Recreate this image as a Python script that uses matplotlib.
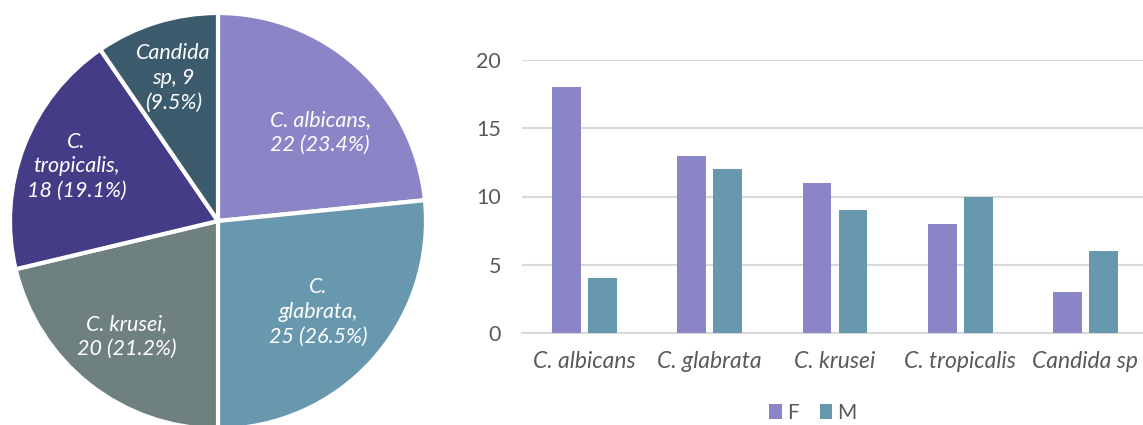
import numpy as np
import matplotlib
matplotlib.use('Agg')
import matplotlib.pyplot as plt

species = ['C. albicans', 'C. glabrata', 'C. krusei', 'C. tropicalis', 'Candida sp']
totals = [22, 25, 20, 18, 9]
female = [18, 13, 11, 8, 3]
male = [4, 12, 9, 10, 6]
pie_labels = ['C. albicans,\n22 (23.4%)', 'C.\nglabrata,\n25 (26.5%)', 'C. krusei,\n20 (21.2%)',
              'C.\ntropicalis,\n18 (19.1%)', 'Candida\nsp, 9\n(9.5%)']

pie_colors = ['#8985C6', '#6898AE', '#6E8080', '#433C86', '#3C5C6E']
c_f = '#8985C6'
c_m = '#6898AE'
txt = '#595959'

plt.rcParams['font.family'] = ['Lato', 'DejaVu Sans']

fig = plt.figure(figsize=(11.43, 4.25), dpi=100)

# pie on the left
W, H = 1143, 425
cx, cy, r = 218, 425 - 221, 208
ax1 = fig.add_axes([(cx - r) / W, (cy - r) / H, 2 * r / W, 2 * r / H])
wedges, _ = ax1.pie(totals, colors=pie_colors, startangle=90, counterclock=False,
                    wedgeprops=dict(edgecolor='white', linewidth=3))
# label radius and angular nudge (deg) per slice
label_r = [0.65, 0.65, 0.71, 0.73, 0.72]
label_da = [-7, 0, 0, 0, 0]
for w, lab, lr, da in zip(wedges, pie_labels, label_r, label_da):
    ang = np.deg2rad((w.theta1 + w.theta2) / 2 + da)
    ax1.text(lr * np.cos(ang), lr * np.sin(ang), lab, ha='center', va='center',
             color='white', fontsize=15.5, style='italic', linespacing=1.3)
ax1.set_xlim(-1, 1)
ax1.set_ylim(-1, 1)
ax1.set_aspect('equal')
ax1.axis('off')

# grouped bars on the right
ax2 = fig.add_axes([522 / W, (425 - 333) / H, (1148 - 522) / W, (333 - 60) / H])
x = np.arange(len(species))
bw = 0.23
ax2.bar(x - bw / 2 - 0.028, female, bw, color=c_f, label='F', zorder=3)
ax2.bar(x + bw / 2 + 0.028, male, bw, color=c_m, label='M', zorder=3)
ax2.set_xlim(-0.5, 4.5)
ax2.set_ylim(0, 20)
ax2.set_yticks([0, 5, 10, 15, 20])
ax2.yaxis.grid(True, color='#D9D9D9', linewidth=1.5, zorder=0)
ax2.set_axisbelow(True)
for s in ['top', 'right', 'left']:
    ax2.spines[s].set_visible(False)
ax2.spines['bottom'].set_color('#D9D9D9')
ax2.spines['bottom'].set_linewidth(1.5)
ax2.tick_params(length=0, labelsize=15.5, colors=txt)
ax2.tick_params(axis='x', pad=13)
ax2.tick_params(axis='y', pad=15)
ax2.set_xticks(x)
ax2.set_xticklabels(species, style='italic', fontsize=16.5)
fig.legend(*ax2.get_legend_handles_labels(), loc='center', bbox_to_anchor=(813 / W, 12 / H),
           ncol=2, frameon=False, fontsize=15, handlelength=0.6, handleheight=0.7,
           handletextpad=0.25, columnspacing=1.0, labelcolor=txt, borderpad=0)

fig.savefig('out.png', dpi=100)
